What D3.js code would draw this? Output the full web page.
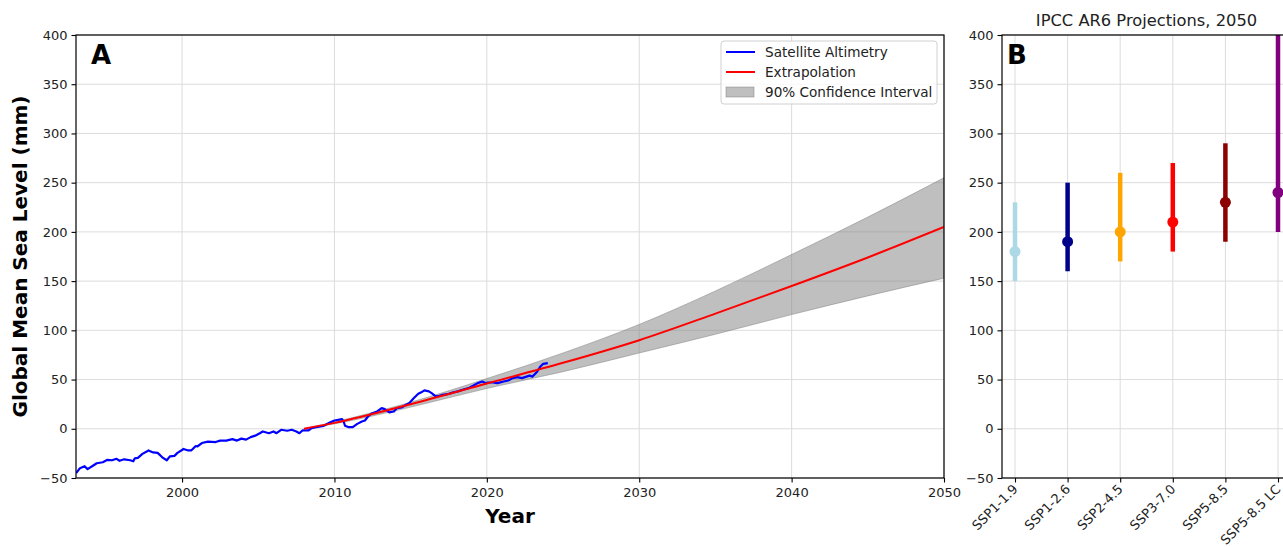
<!DOCTYPE html>
<html lang="en">
<head>
<meta charset="utf-8">
<title>Sea level</title>
<script src="https://cdnjs.cloudflare.com/ajax/libs/d3/7.8.5/d3.min.js"></script>
<style>
  body { margin: 0; background: #fff; }
  svg { font-family: "DejaVu Sans", sans-serif; }
  .grid line { stroke: #dcdcdc; stroke-width: 1; }
  .tick text { font-size: 13px; fill: #222; font-family: "DejaVu Sans", sans-serif; }
</style>
</head>
<body>
<div id="chart"></div>
<script>
// satellite altimetry
var satYears = [1993.05, 1993.3, 1993.6, 1993.8, 1994.2, 1994.4, 1994.8, 1995.1, 1995.4, 1995.7, 1995.9,
  1996.2, 1996.6, 1996.8, 1996.9, 1997.1, 1997.4, 1997.8, 1998.1, 1998.4, 1998.7, 1999.0, 1999.2, 1999.5,
  1999.7, 2000.1, 2000.4, 2000.6, 2000.9, 2001.0, 2001.3, 2001.7, 2002.2, 2002.5, 2002.9, 2003.3, 2003.6,
  2003.9, 2004.2, 2004.5, 2004.8, 2005.1, 2005.3, 2005.7, 2006.0, 2006.2, 2006.5, 2006.9, 2007.2, 2007.5,
  2007.7, 2007.9, 2008.3, 2008.5, 2008.8, 2009.3, 2009.7, 2010.0, 2010.5, 2010.6, 2010.7, 2010.9, 2011.2,
  2011.5, 2011.8, 2012.0, 2012.2, 2012.4, 2012.8, 2013.1, 2013.3, 2013.6, 2013.9, 2014.1, 2014.4, 2014.7,
  2014.9, 2015.2, 2015.5, 2015.7, 2015.9, 2016.2, 2016.4, 2016.6, 2016.8, 2017.1, 2017.5, 2017.8, 2018.1,
  2018.4, 2018.8, 2019.1, 2019.4, 2019.7, 2019.9, 2020.1, 2020.4, 2020.7, 2021.1, 2021.4, 2021.7, 2022.0,
  2022.3, 2022.5, 2022.8, 2023.0, 2023.3, 2023.5, 2023.7, 2024.0];
var satValues = [-45, -40, -38, -41, -37, -35, -34, -31.5, -32, -30.5, -32.5,
  -31, -32, -33, -30, -29.5, -25.5, -22, -24, -24.5, -29, -32, -28, -27.5,
  -24.5, -20.5, -22, -22, -17.5, -18, -14.5, -13, -13.5, -12, -12, -10.5, -12,
  -10, -11, -8.5, -7, -4.5, -2.7, -4.5, -2.7, -4.5, -1, -2, -1, -2.7,
  -4.5, -1.7, -1.7, 0.7, 1.7, 3, 6.4, 8.4, 9.8, 7.4, 3, 1.7, 1.7,
  5, 7.4, 8.4, 12.5, 15.2, 17.6, 21, 20, 16.6, 17.6, 21, 21.6, 24.4,
  26, 31, 35.5, 37, 39, 38, 36, 33.5, 33, 34.5, 35.5, 37, 38,
  39.6, 41.3, 43.7, 46.4, 48, 46.4, 47, 47, 46.4, 48, 49, 51.5, 52.5,
  51.5, 52.5, 54, 53, 58, 63, 66, 66.7];

// extrapolation and 90% interval
var extYears = [2008, 2010, 2015, 2020, 2025, 2030, 2035, 2040, 2045, 2050];
var extMid   = [0, 6, 25, 46, 67, 90, 117, 145, 174, 205];
var extLow   = [0, 5, 22, 41, 58, 77, 96, 116, 135, 153];
var extHigh  = [0, 7, 27, 51, 77, 106, 140, 177, 215, 255];

// IPCC AR6 2050 projections
var scenarios = ["SSP1-1.9", "SSP1-2.6", "SSP2-4.5", "SSP3-7.0", "SSP5-8.5", "SSP5-8.5 LC"];
var medians   = [180, 190, 200, 210, 230, 240];
var lows      = [150, 160, 170, 180, 190, 200];
var highs     = [230, 250, 260, 270, 290, 480];
var colors    = ["#add8e6", "#00008b", "#ffa500", "#ff0000", "#8b0000", "#800080"];

var yTicks = [-50, 0, 50, 100, 150, 200, 250, 300, 350, 400];
var xTicks = [2000, 2010, 2020, 2030, 2040, 2050];

var W = 1283, H = 547;
var svg = d3.select("#chart").append("svg").attr("width", W).attr("height", H);

var yTop = 35, yBottom = 478;

function cleanAxis(g) {
  g.attr("font-size", null).attr("font-family", null);
  g.select(".domain").remove();
  g.selectAll(".tick line").attr("stroke", "#000").attr("stroke-width", 1.1);
}

// ---------- panel A ----------
var ax = { left: 76, right: 944 };
var x = d3.scaleLinear().domain([1993.04, 2050]).range([ax.left, ax.right]);
var y = d3.scaleLinear().domain([-50, 400]).range([yBottom, yTop]);

var gA = svg.append("g");
gA.append("defs").append("clipPath").attr("id", "clipA")
  .append("rect").attr("x", ax.left).attr("y", yTop)
  .attr("width", ax.right - ax.left).attr("height", yBottom - yTop);

gA.append("g").attr("class", "grid")
  .selectAll("line").data(yTicks).enter().append("line")
  .attr("x1", ax.left).attr("x2", ax.right)
  .attr("y1", d => y(d)).attr("y2", d => y(d));
gA.append("g").attr("class", "grid")
  .selectAll("line").data(xTicks).enter().append("line")
  .attr("y1", yTop).attr("y2", yBottom)
  .attr("x1", d => x(d)).attr("x2", d => x(d));

var plotA = gA.append("g").attr("clip-path", "url(#clipA)");

var band = d3.area()
  .x((d, i) => x(extYears[i]))
  .y0((d, i) => y(extLow[i]))
  .y1((d, i) => y(extHigh[i]))
  .curve(d3.curveMonotoneX);
plotA.append("path").datum(extYears).attr("d", band)
  .attr("fill", "#808080").attr("fill-opacity", 0.5)
  .attr("stroke", "#808080").attr("stroke-opacity", 0.5).attr("stroke-width", 1);

plotA.append("path").datum(satYears)
  .attr("d", d3.line().x(d => x(d)).y((d, i) => y(satValues[i])))
  .attr("fill", "none").attr("stroke", "#0000ff").attr("stroke-width", 2.2)
  .attr("stroke-linejoin", "round");

plotA.append("path").datum(extYears)
  .attr("d", d3.line().x(d => x(d)).y((d, i) => y(extMid[i])).curve(d3.curveMonotoneX))
  .attr("fill", "none").attr("stroke", "#ff0000").attr("stroke-width", 2);

gA.append("g").attr("transform", "translate(0," + yBottom + ")")
  .call(d3.axisBottom(x).tickValues(xTicks).tickFormat(d3.format("d")).tickSizeOuter(0).tickSize(4.5).tickPadding(5))
  .call(cleanAxis);
gA.append("g").attr("transform", "translate(" + ax.left + ",0)")
  .call(d3.axisLeft(y).tickValues(yTicks).tickSizeOuter(0).tickSize(4.5).tickPadding(4))
  .call(cleanAxis);
gA.append("rect").attr("x", ax.left).attr("y", yTop)
  .attr("width", ax.right - ax.left).attr("height", yBottom - yTop)
  .attr("fill", "none").attr("stroke", "#000").attr("stroke-width", 1.2);

gA.append("text").attr("x", 91).attr("y", 64).attr("font-size", 26).attr("font-weight", "bold").text("A");
gA.append("text").attr("x", (ax.left + ax.right) / 2).attr("y", 523).attr("text-anchor", "middle")
  .attr("font-size", 20).attr("font-weight", "bold").text("Year");
gA.append("text").attr("transform", "translate(27," + ((yTop + yBottom) / 2) + ") rotate(-90)")
  .attr("text-anchor", "middle").attr("font-size", 20).attr("font-weight", "bold")
  .text("Global Mean Sea Level (mm)");

// legend
var leg = gA.append("g").attr("transform", "translate(721,41)");
leg.append("rect").attr("width", 216).attr("height", 63).attr("rx", 3)
  .attr("fill", "#fff").attr("fill-opacity", 0.8).attr("stroke", "#d0d0d0");
var legItems = [
  { label: "Satellite Altimetry", color: "#0000ff", kind: "line" },
  { label: "Extrapolation", color: "#ff0000", kind: "line" },
  { label: "90% Confidence Interval", color: "#808080", kind: "patch" }
];
legItems.forEach(function (d, i) {
  var cy = 11 + i * 20;
  if (d.kind == "line") {
    leg.append("line").attr("x1", 5).attr("x2", 34).attr("y1", cy).attr("y2", cy)
      .attr("stroke", d.color).attr("stroke-width", 2);
  } else {
    leg.append("rect").attr("x", 5).attr("y", cy - 5).attr("width", 28).attr("height", 10)
      .attr("fill", d.color).attr("fill-opacity", 0.5).attr("stroke", d.color).attr("stroke-opacity", 0.5);
  }
  leg.append("text").attr("x", 44).attr("y", cy + 5).attr("font-size", 13.6).attr("fill", "#222").text(d.label);
});

// ---------- panel B ----------
var bx = { left: 1002, right: 1291 };
var xb = d3.scalePoint().domain(scenarios).range([bx.left + 13, bx.right - 13]);
var gB = svg.append("g");
gB.append("defs").append("clipPath").attr("id", "clipB")
  .append("rect").attr("x", bx.left).attr("y", yTop)
  .attr("width", bx.right - bx.left).attr("height", yBottom - yTop);

gB.append("g").attr("class", "grid")
  .selectAll("line").data(yTicks).enter().append("line")
  .attr("x1", bx.left).attr("x2", bx.right)
  .attr("y1", d => y(d)).attr("y2", d => y(d));
gB.append("g").attr("class", "grid")
  .selectAll("line").data(scenarios).enter().append("line")
  .attr("y1", yTop).attr("y2", yBottom)
  .attr("x1", d => xb(d)).attr("x2", d => xb(d));

var plotB = gB.append("g").attr("clip-path", "url(#clipB)");
plotB.selectAll("line").data(scenarios).enter().append("line")
  .attr("x1", d => xb(d)).attr("x2", d => xb(d))
  .attr("y1", (d, i) => y(lows[i])).attr("y2", (d, i) => y(highs[i]))
  .attr("stroke", (d, i) => colors[i]).attr("stroke-width", 4.5);
plotB.selectAll("circle").data(scenarios).enter().append("circle")
  .attr("cx", d => xb(d)).attr("cy", (d, i) => y(medians[i])).attr("r", 5.5)
  .attr("fill", (d, i) => colors[i]);

gB.append("g").attr("transform", "translate(" + bx.left + ",0)")
  .call(d3.axisLeft(y).tickValues(yTicks).tickSizeOuter(0).tickSize(4.5).tickPadding(4))
  .call(cleanAxis);
var xbAxis = gB.append("g").attr("transform", "translate(0," + yBottom + ")")
  .call(d3.axisBottom(xb).tickSizeOuter(0).tickSize(4.5))
  .call(cleanAxis);
xbAxis.selectAll(".tick text")
  .attr("text-anchor", "end").attr("dy", null)
  .attr("y", 0).attr("x", 0)
  .attr("transform", "translate(3,12) rotate(-45)");
gB.append("rect").attr("x", bx.left).attr("y", yTop)
  .attr("width", bx.right - bx.left).attr("height", yBottom - yTop)
  .attr("fill", "none").attr("stroke", "#000").attr("stroke-width", 1.2);

gB.append("text").attr("x", 1007).attr("y", 64).attr("font-size", 26).attr("font-weight", "bold").text("B");
gB.append("text").attr("x", (bx.left + bx.right) / 2).attr("y", 26).attr("text-anchor", "middle")
  .attr("font-size", 16.3).attr("fill", "#222").text("IPCC AR6 Projections, 2050");
</script>
</body>
</html>
